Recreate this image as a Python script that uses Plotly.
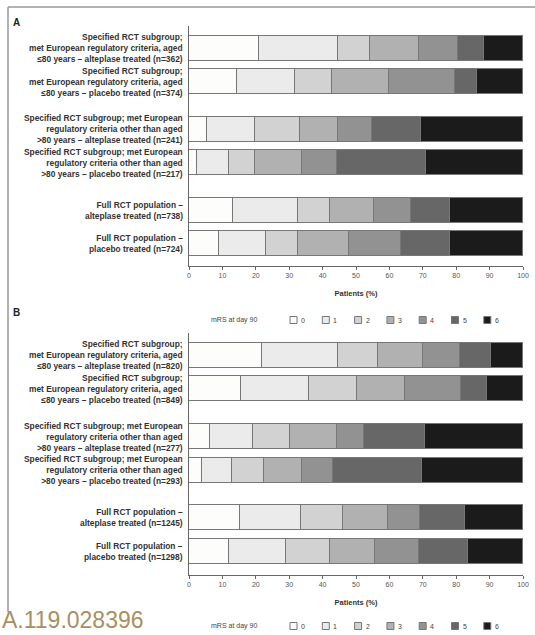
import plotly.graph_objects as go

# ---------------- data (percent of patients by mRS at day 90) ----------------
mrs_levels = ["0", "1", "2", "3", "4", "5", "6"]

labels_a = [
    "Specified RCT subgroup;<br>met European regulatory criteria, aged<br>≤80 years – alteplase treated (n=362)",
    "Specified RCT subgroup;<br>met European regulatory criteria, aged<br>≤80 years – placebo treated (n=374)",
    "Specified RCT subgroup; met European<br>regulatory criteria other than aged<br>>80 years – alteplase treated (n=241)",
    "Specified RCT subgroup; met European<br>regulatory criteria other than aged<br>>80 years – placebo treated (n=217)",
    "Full RCT population –<br>alteplase treated (n=738)",
    "Full RCT population –<br>placebo treated (n=724)",
]
labels_b = [
    "Specified RCT subgroup;<br>met European regulatory criteria, aged<br>≤80 years – alteplase treated (n=820)",
    "Specified RCT subgroup;<br>met European regulatory criteria, aged<br>≤80 years – placebo treated (n=849)",
    "Specified RCT subgroup; met European<br>regulatory criteria other than aged<br>>80 years – alteplase treated (n=277)",
    "Specified RCT subgroup; met European<br>regulatory criteria other than aged<br>>80 years – placebo treated (n=293)",
    "Full RCT population –<br>alteplase treated (n=1245)",
    "Full RCT population –<br>placebo treated (n=1298)",
]

# Panel A rows (mRS 0..6)
a_alt_le80 = [21.0, 23.6, 9.5, 14.7, 11.7, 7.9, 11.6]
a_pla_le80 = [14.4, 17.4, 11.0, 17.1, 19.8, 6.6, 13.7]
a_alt_oth = [5.3, 14.5, 13.5, 11.3, 10.3, 14.6, 30.5]
a_pla_oth = [2.5, 9.6, 7.8, 13.9, 10.5, 26.7, 29.0]
a_alt_full = [13.2, 19.3, 9.8, 13.1, 11.2, 11.4, 22.0]
a_pla_full = [9.1, 14.0, 9.4, 15.3, 15.6, 14.8, 21.8]

# Panel B rows (mRS 0..6)
b_alt_le80 = [21.9, 22.6, 12.2, 13.5, 10.8, 9.4, 9.6]
b_pla_le80 = [15.7, 20.3, 14.4, 14.3, 16.7, 7.9, 10.7]
b_alt_oth = [6.3, 12.8, 11.2, 14.0, 8.2, 18.2, 29.3]
b_pla_oth = [4.0, 9.0, 9.5, 11.3, 9.3, 26.8, 30.1]
b_alt_full = [15.3, 18.3, 12.4, 13.5, 9.8, 13.2, 17.5]
b_pla_full = [12.0, 17.0, 13.3, 13.4, 13.1, 14.6, 16.6]

x_ticks = [0, 10, 20, 30, 40, 50, 60, 70, 80, 90, 100]
legend_title = "mRS at day 90"

# ---------------- styling ----------------
W, H = 535, 635
FONT = "Liberation Sans, Arial, sans-serif"
colors = ["#fdfdfb", "#ebebeb", "#d2d2d2", "#b1b1b1", "#929292", "#676767", "#1b1b1b"]
edge = "#777777"
axis_col = "#666666"

rows_a = [a_alt_le80, a_pla_le80, a_alt_oth, a_pla_oth, a_alt_full, a_pla_full]
rows_b = [b_alt_le80, b_pla_le80, b_alt_oth, b_pla_oth, b_alt_full, b_pla_full]
# rows are grouped in pairs with an extra gap between pairs
pos = [i + 0.42 * (i // 2) for i in range(6)]


def px_x(p):
    return p / W


def px_y(p):
    return 1 - p / H


fig = go.Figure()

panels = [
    (rows_a, labels_a, "x", "y", 320),
    (rows_b, labels_b, "x2", "y2", 626),
]
for rows, labels, xa, ya, leg_y in panels:
    for k, lev in enumerate(mrs_levels):
        fig.add_trace(go.Bar(
            x=[r[k] for r in rows], y=pos, orientation="h",
            name=lev, showlegend=False, xaxis=xa, yaxis=ya,
            width=0.75,
            marker=dict(color=colors[k], line=dict(color=edge, width=1)),
            hoverinfo="skip",
        ))
    for lbl, p in zip(labels, pos):
        fig.add_annotation(
            text=lbl, xref="paper", yref=ya, x=px_x(185), y=p,
            xanchor="right", yanchor="middle", align="right", showarrow=False,
            font=dict(family=FONT, size=8.4, color="#333333", weight="bold"),
        )
    # key ("mRS at day 90" with swatches)
    fig.add_annotation(
        text=legend_title, xref="paper", yref="paper", x=px_x(209), y=px_y(leg_y),
        xanchor="left", yanchor="middle", showarrow=False,
        font=dict(family=FONT, size=7, color="#444444"),
    )
    for k, lev in enumerate(mrs_levels):
        bx = 290 + 32.3 * k
        fig.add_shape(
            type="rect", xref="paper", yref="paper",
            x0=px_x(bx), x1=px_x(bx + 7), y0=px_y(leg_y + 3.5), y1=px_y(leg_y - 3.5),
            fillcolor=colors[k], line=dict(color=edge, width=1),
        )
        fig.add_annotation(
            text=lev, xref="paper", yref="paper", x=px_x(bx + 9), y=px_y(leg_y),
            xanchor="left", yanchor="middle", showarrow=False,
            font=dict(family=FONT, size=7, color="#444444"),
        )

xaxis_common = dict(
    range=[0, 100], tickvals=x_ticks, ticks="outside", ticklen=3, tickcolor=axis_col,
    showline=True, linecolor=axis_col, linewidth=1, showgrid=False, zeroline=False,
    tickfont=dict(family=FONT, size=7, color="#555555"),
    title=dict(text="<b>Patients (%)</b>", font=dict(family=FONT, size=7.5, color="#333333"), standoff=12),
    fixedrange=True, automargin=False,
)
yaxis_common = dict(
    showline=True, linecolor=axis_col, linewidth=1, showgrid=False, zeroline=False,
    showticklabels=False, ticks="", fixedrange=True, automargin=False,
)

fig.update_layout(
    width=W, height=H, autosize=False,
    margin=dict(l=0, r=0, t=0, b=0),
    paper_bgcolor="white", plot_bgcolor="rgba(0,0,0,0)",
    barmode="stack", bargap=0,
    showlegend=False,
    font=dict(family=FONT, color="#333333"),
    xaxis=dict(domain=[px_x(189), px_x(523)], anchor="y", **xaxis_common),
    yaxis=dict(domain=[px_y(266), px_y(26)], anchor="x", range=[6.5, -0.67], **yaxis_common),
    xaxis2=dict(domain=[px_x(189), px_x(523)], anchor="y2", **xaxis_common),
    yaxis2=dict(domain=[px_y(575), px_y(333)], anchor="x2", range=[6.54, -0.66], **yaxis_common),
)

# panel letters
for letter, ypx in [("A", 22), ("B", 313)]:
    fig.add_annotation(
        text=f"<b>{letter}</b>", xref="paper", yref="paper", x=px_x(11), y=px_y(ypx),
        xanchor="left", yanchor="middle", showarrow=False,
        font=dict(family=FONT, size=10, color="#222222"),
    )

# page frame lines
fig.add_shape(type="line", xref="paper", yref="paper", x0=px_x(8), x1=1.0, y0=px_y(7), y1=px_y(7),
              line=dict(color="#999999", width=1.5))
fig.add_shape(type="line", xref="paper", yref="paper", x0=px_x(8), x1=px_x(8), y0=px_y(7), y1=px_y(612),
              line=dict(color="#999999", width=1.5))

# DOI fragment at the bottom of the page
fig.add_annotation(
    text="A.119.028396", xref="paper", yref="paper", x=px_x(0), y=px_y(635),
    xanchor="left", yanchor="bottom", showarrow=False,
    font=dict(family=FONT, size=23, color="#a89060"),
)

fig.write_html("out.html")
